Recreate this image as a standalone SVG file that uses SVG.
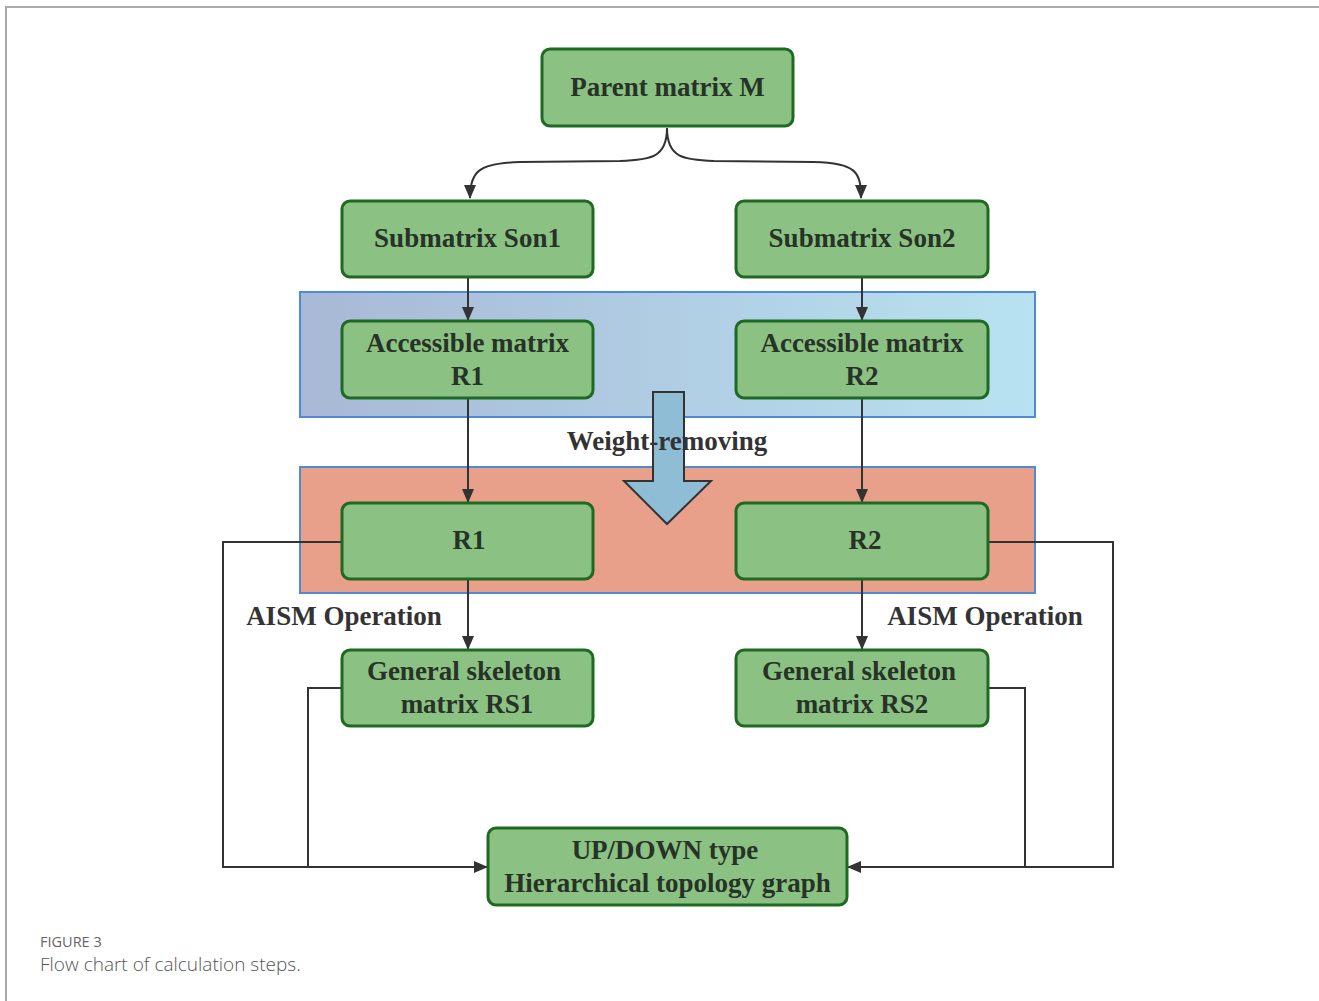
<svg xmlns="http://www.w3.org/2000/svg" width="1319" height="1001" viewBox="0 0 1319 1001">
<style>
.node rect{fill:#8cc184;stroke:#1f6a22;stroke-width:3}
.t{font-family:"Liberation Serif","Times New Roman",serif;font-weight:bold;font-size:27px;fill:#263326;text-anchor:middle}
.lbl{font-family:"Liberation Serif","Times New Roman",serif;font-weight:bold;font-size:27px;fill:#333;text-anchor:middle}
.c{fill:none;stroke:#333;stroke-width:2}
</style>
<defs>
<marker id="ah" viewBox="0 0 14 12" refX="13" refY="6" markerWidth="14" markerHeight="12" markerUnits="userSpaceOnUse" orient="auto">
<path d="M0,0 L14,6 L0,12 Z" fill="#333"/>
</marker>
<linearGradient id="blueg" x1="0" y1="0" x2="1" y2="0">
<stop offset="0" stop-color="#a8b8d6"/>
<stop offset="1" stop-color="#b8e2f1"/>
</linearGradient>
</defs>
<rect x="0" y="0" width="1319" height="1001" fill="#fff"/>
<path d="M6,1001 V7 H1319" fill="none" stroke="#aaa" stroke-width="2"/>

<g id="bands">
<rect x="300" y="292" width="735" height="125" fill="url(#blueg)" stroke="#4f8ad6" stroke-width="2"/>
<rect x="300" y="467" width="735" height="126" fill="#e9a08a" stroke="#4f8ad6" stroke-width="2"/>
</g>

<g id="connectors">
<path class="c" d="M667,128 C667,158 650,160 620,161 L520,162 C478,163 470,172 470,198" marker-end="url(#ah)"/>
<path class="c" d="M667,128 C667,158 684,160 714,161 L814,162 C856,163 861,172 861,198" marker-end="url(#ah)"/>
<path class="c" d="M468,277 V320" marker-end="url(#ah)"/>
<path class="c" d="M862,277 V320" marker-end="url(#ah)"/>
<path class="c" d="M468,398 V502" marker-end="url(#ah)"/>
<path class="c" d="M862,398 V502" marker-end="url(#ah)"/>
<path class="c" d="M468,579 V649" marker-end="url(#ah)"/>
<path class="c" d="M862,579 V649" marker-end="url(#ah)"/>
<path class="c" d="M342,542 H223 V867 H487" marker-end="url(#ah)"/>
<path class="c" d="M342,688 H308 V867"/>
<path class="c" d="M988,542 H1113 V867 H848" marker-end="url(#ah)"/>
<path class="c" d="M988,688 H1025 V867"/>
</g>

<g id="weight-arrow">
<path d="M653,392 H684 V481 H711 L667,524 L624,481 H653 Z" fill="#8fbdd6" stroke="#333" stroke-width="2"/>
</g>

<g id="n-parent" class="node"><rect x="542" y="49" width="251" height="77" rx="8"/><text class="t" x="667.5" y="96">Parent matrix M</text></g>
<g id="n-son1" class="node"><rect x="342" y="201" width="251" height="76" rx="8"/><text class="t" x="467.5" y="247">Submatrix Son1</text></g>
<g id="n-son2" class="node"><rect x="736" y="201" width="252" height="76" rx="8"/><text class="t" x="862" y="247">Submatrix Son2</text></g>
<g id="n-acc1" class="node"><rect x="342" y="321" width="251" height="77" rx="8"/><text class="t" x="467.5" y="352">Accessible matrix</text><text class="t" x="467.5" y="385">R1</text></g>
<g id="n-acc2" class="node"><rect x="736" y="321" width="252" height="77" rx="8"/><text class="t" x="862" y="352">Accessible matrix</text><text class="t" x="862" y="385">R2</text></g>
<g id="n-r1" class="node"><rect x="342" y="503" width="251" height="76" rx="8"/><text class="t" x="469" y="549">R1</text></g>
<g id="n-r2" class="node"><rect x="736" y="503" width="252" height="76" rx="8"/><text class="t" x="865" y="549">R2</text></g>
<g id="n-rs1" class="node"><rect x="342" y="650" width="251" height="76" rx="8"/><text class="t" x="464" y="680">General skeleton</text><text class="t" x="467" y="713">matrix RS1</text></g>
<g id="n-rs2" class="node"><rect x="736" y="650" width="252" height="76" rx="8"/><text class="t" x="859" y="680">General skeleton</text><text class="t" x="862" y="713">matrix RS2</text></g>
<g id="n-final" class="node"><rect x="488" y="828" width="359" height="77" rx="8"/><text class="t" x="665" y="859">UP/DOWN type</text><text class="t" x="667.5" y="892">Hierarchical topology graph</text></g>

<g id="labels">
<text class="lbl" x="667" y="450">Weight-removing</text>
<text class="lbl" x="344" y="625">AISM Operation</text>
<text class="lbl" x="985" y="625">AISM Operation</text>
</g>

<g id="caption">
<text x="40" y="947" font-family="'Open Sans',sans-serif" font-size="14.5" fill="#666">FIGURE 3</text>
<text x="40" y="971" font-family="'Open Sans',sans-serif" font-size="19" font-weight="300" fill="#555">Flow chart of calculation steps.</text>
</g>
</svg>
